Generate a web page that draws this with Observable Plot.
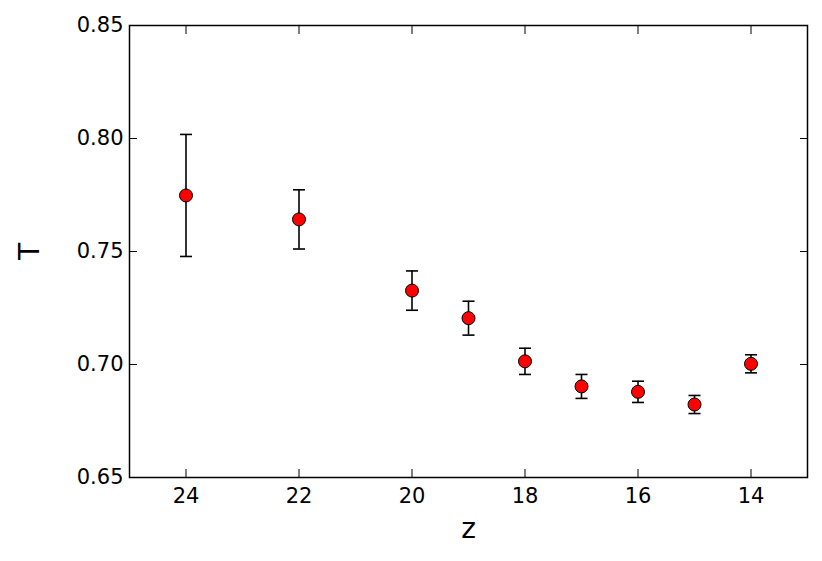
<!DOCTYPE html>
<html>
<head>
<meta charset="utf-8">
<script src="https://cdn.jsdelivr.net/npm/d3@7"></script>
<script src="https://cdn.jsdelivr.net/npm/@observablehq/plot@0.6"></script>
<style>
  html, body { margin: 0; padding: 0; background: #fff; }
  svg { display: block; }
</style>
</head>
<body>
<div id="chart"></div>
<script>
const zValues = [24, 22, 20, 19, 18, 17, 16, 15, 14];
const tValues = [0.7748, 0.7642, 0.7327, 0.7205, 0.7014, 0.6903, 0.6879, 0.6823, 0.7003];
const tErrors = [0.0270, 0.0131, 0.0087, 0.0075, 0.0058, 0.0053, 0.0047, 0.0040, 0.0040];
const xTicks = [24, 22, 20, 18, 16, 14];
const yTicks = [0.65, 0.70, 0.75, 0.80, 0.85];

const data = zValues.map((z, i) => ({z, t: tValues[i], lo: tValues[i] - tErrors[i], hi: tValues[i] + tErrors[i]}));

const capSymbol = {
  draw(context, size) {
    const w = Math.sqrt(size) / 2;
    context.moveTo(-w, 0);
    context.lineTo(w, 0);
  }
};

const font = "DejaVu Sans, sans-serif";
const noLabel = () => "";

const chart = Plot.plot({
  width: 822,
  height: 561,
  marginLeft: 129,
  marginRight: 15,
  marginTop: 25,
  marginBottom: 84,
  style: {fontFamily: font, fontSize: "21px", color: "black", background: "white"},
  x: {domain: [25, 13]},
  y: {domain: [0.65, 0.85]},
  marks: [
    Plot.axisX({anchor: "bottom", ticks: xTicks, tickSize: -8, tickPadding: 19, tickFormat: d3.format("d"),
      label: "z", labelAnchor: "center", labelArrow: "none", labelOffset: 60, fontSize: 21}),
    Plot.axisX({anchor: "top", ticks: xTicks, tickSize: -8, tickFormat: noLabel, label: null}),
    Plot.axisY({anchor: "left", ticks: yTicks, tickSize: -8, tickPadding: 14, tickFormat: d3.format(".2f"),
      label: "T", labelAnchor: "center", labelArrow: "none", labelOffset: 110, fontSize: 21}),
    Plot.axisY({anchor: "right", ticks: yTicks, tickSize: -8, tickFormat: noLabel, label: null}),
    Plot.frame({stroke: "black", strokeWidth: 1.5}),
    Plot.ruleX(data, {x: "z", y1: "lo", y2: "hi", stroke: "black", strokeWidth: 1.6}),
    Plot.dot(data, {x: "z", y: "lo", symbol: capSymbol, r: 6.8, stroke: "black", strokeWidth: 1.6}),
    Plot.dot(data, {x: "z", y: "hi", symbol: capSymbol, r: 6.8, stroke: "black", strokeWidth: 1.6}),
    Plot.dot(data, {x: "z", y: "t", r: 6.5, fill: "#ff0000", stroke: "black", strokeWidth: 1})
  ]
});

document.getElementById("chart").appendChild(chart);
chart.querySelectorAll("[aria-label='x-axis label'] text, [aria-label='y-axis label'] text").forEach(t => t.setAttribute("font-size", "28"));
</script>
</body>
</html>
